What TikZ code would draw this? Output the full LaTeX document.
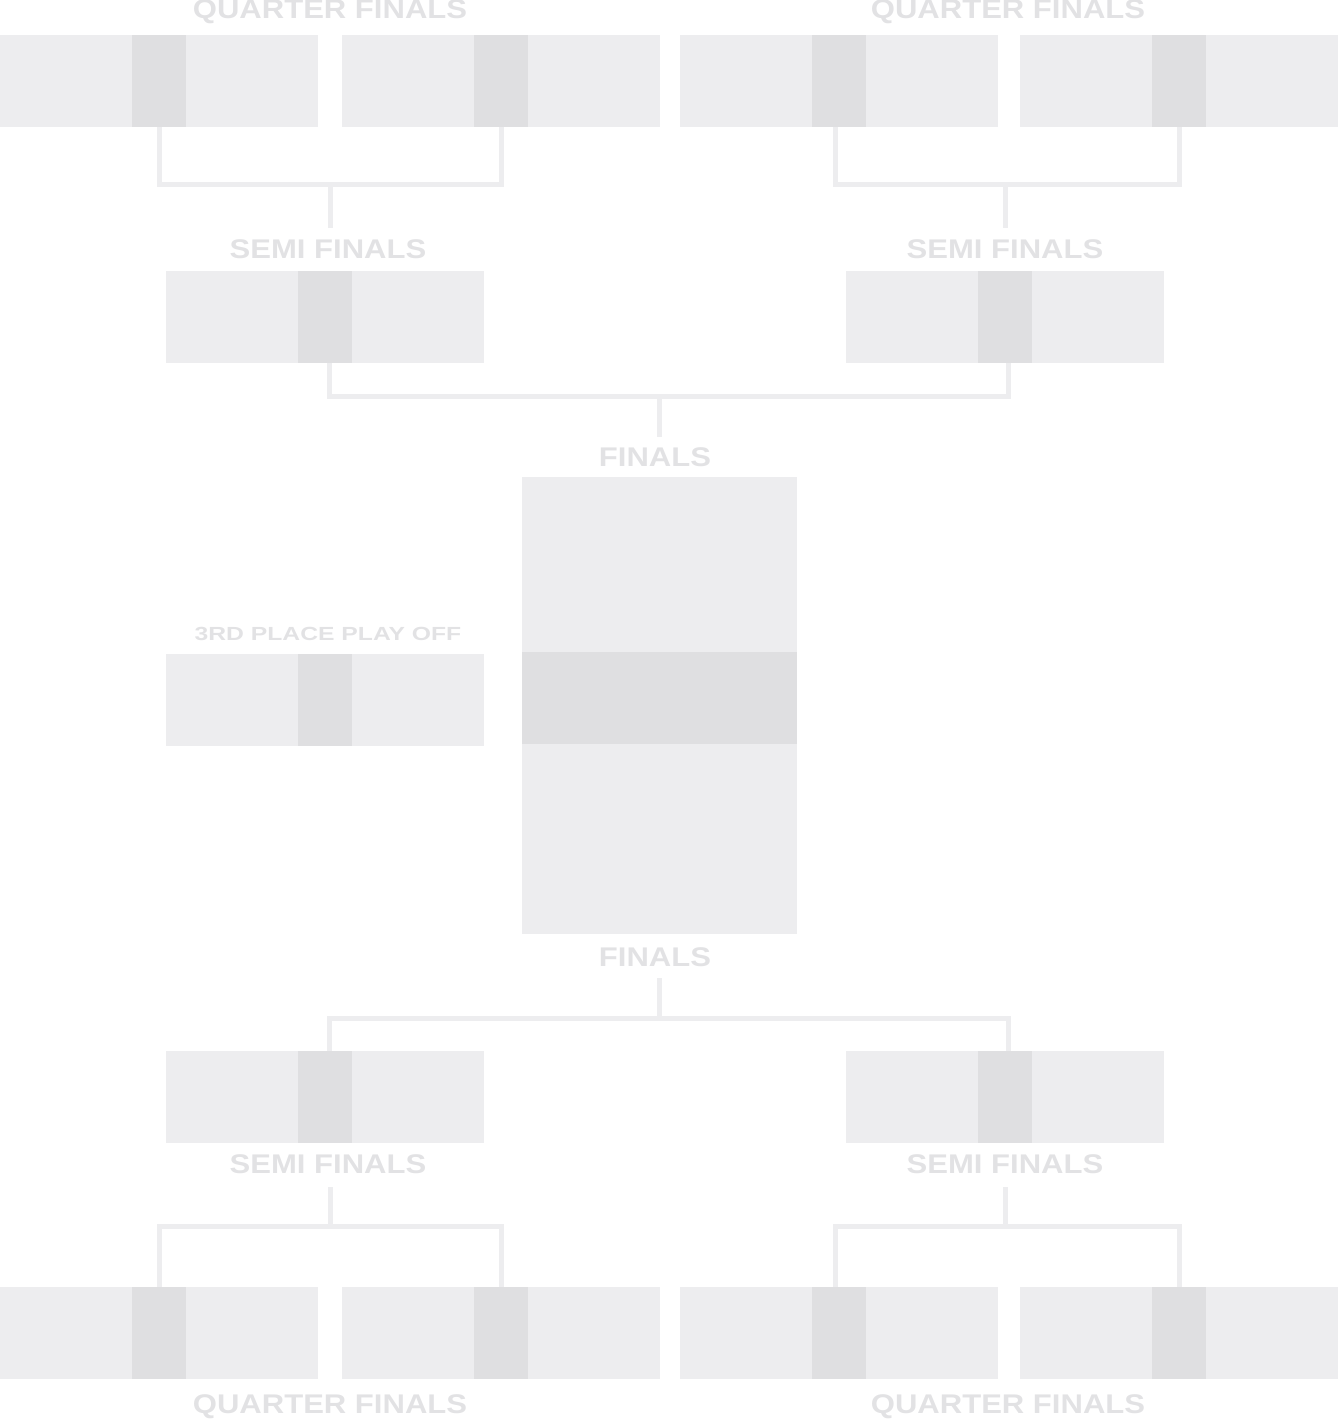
\documentclass[tikz,border=0pt]{standalone}
\usepackage{fontspec}
\setmainfont{Liberation Sans}
\usetikzlibrary{calc}
\definecolor{boxgray}{HTML}{EDEDEF}
\definecolor{stripgray}{HTML}{DFDFE1}
\definecolor{textgray}{HTML}{E2E2E4}
\begin{document}
\begin{tikzpicture}[x=1pt,y=-1pt,
	game/.style={rectangle, inner sep=0pt, minimum width=318pt, minimum height=92pt, fill=boxgray,
		path picture={\fill[stripgray] ([xshift=-27pt]path picture bounding box.south) rectangle ([xshift=27pt]path picture bounding box.north);}},
	link/.style={draw=boxgray, line width=5pt},
	round/.style={text=textgray, xscale=1.15, font=\fontsize{27}{27}\selectfont\bfseries},
	small/.style={text=textgray, xscale=1.3, font=\fontsize{19}{19}\selectfont\bfseries}]
	\useasboundingbox (0,0) rectangle (1338,1421);

	% top quarter finals
	\node[round] (lqt1) at (330,12) {QUARTER FINALS};
	\node[round] (lqt2) at (1008,12) {QUARTER FINALS};
	\node[game] (qa) at (159,81) {};
	\node[game] (qb) at (501,81) {};
	\node[game] (qc) at (839,81) {};
	\node[game] (qd) at (1179,81) {};

	% top semi finals
	\node[round] (lst1) at (328,249) {SEMI FINALS};
	\node[round] (lst2) at (1005,249) {SEMI FINALS};
	\node[game] (sa) at (325,317) {};
	\node[game] (sb) at (1005,317) {};

	% finals
	\node[round] (lf1) at (655,457) {FINALS};
	\node[round] (lf2) at (655,957) {FINALS};
	\node[rectangle, inner sep=0pt, minimum width=275pt, minimum height=457pt, fill=boxgray] (fin) at (659.5,705.5) {};
	\fill[stripgray] (522,652) rectangle (797,744);

	% third place
	\node[small] (l3) at (328,634) {3RD PLACE PLAY OFF};
	\node[game] (tp) at (325,700) {};

	% bottom semi finals
	\node[game] (sc) at (325,1097) {};
	\node[game] (sd) at (1005,1097) {};
	\node[round] (lsb1) at (328,1164) {SEMI FINALS};
	\node[round] (lsb2) at (1005,1164) {SEMI FINALS};

	% bottom quarter finals
	\node[game] (qe) at (159,1333) {};
	\node[game] (qf) at (501,1333) {};
	\node[game] (qg) at (839,1333) {};
	\node[game] (qh) at (1179,1333) {};
	\node[round] (lqb1) at (330,1407) {QUARTER FINALS};
	\node[round] (lqb2) at (1008,1407) {QUARTER FINALS};

	% brackets
	\draw[link] (qa.south) |- (330,184) -| (qb.south);
	\draw[link] (330,184) -- (330,228);
	\draw[link] ([xshift=-4pt]qc.south) |- (1005,184) -| (qd.south);
	\draw[link] (1005,184) -- (1005,228);
	\draw[link] ([xshift=4pt]sa.south) |- (659,396) -| ([xshift=3pt]sb.south);
	\draw[link] (659,396) -- (659,437);
	\draw[link] (659,978) -- (659,1018);
	\draw[link] ([xshift=4pt]sc.north) |- (659,1018) -| ([xshift=3pt]sd.north);
	\draw[link] (330,1187) -- (330,1226);
	\draw[link] (qe.north) |- (330,1226) -| (qf.north);
	\draw[link] (1005,1187) -- (1005,1226);
	\draw[link] ([xshift=-4pt]qg.north) |- (1005,1226) -| (qh.north);
\end{tikzpicture}
\end{document}
